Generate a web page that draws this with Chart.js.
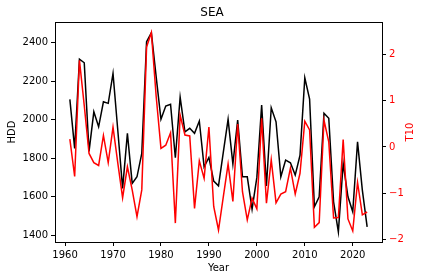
<!DOCTYPE html>
<html>
<head>
<meta charset="utf-8">
<script src="https://cdn.jsdelivr.net/npm/chart.js@4"></script>
<style>
  html, body { margin: 0; padding: 0; background: #fff; }
  canvas { display: block; }
</style>
</head>
<body>
<canvas id="chart" width="424" height="280"></canvas>
<script>
// data
const years = [];
for (let y = 1961; y <= 2023; y++) years.push(y);

const hdd = [
  2106, 1851, 2315, 2296, 1835, 2041, 1963, 2093, 2085, 2241,
  1944, 1643, 1929, 1669, 1703, 1825, 2405, 2452, 2223, 2002,
  2071, 2080, 1802, 2117, 1937, 1955, 1929, 1993, 1755, 1804,
  1681, 1656, 1830, 2002, 1769, 1998, 1703, 1703, 1535, 1700,
  2076, 1655, 2062, 1989, 1703, 1790, 1776, 1712, 1815, 2218,
  2107, 1547, 1599, 2033, 2007, 1573, 1417, 1773, 1599, 1521,
  1885, 1634, 1443
];

const t10 = [
  0.17, -0.64, 1.88, 0.9, -0.14, -0.34, -0.40, 0.25, -0.34, 0.43,
  -0.35, -1.10, -0.43, -0.93, -1.51, -0.93, 2.17, 2.48, 1.1, -0.03,
  0.04, 0.31, -1.65, 0.69, 0.26, 0.24, -1.33, -0.30, -0.68, 0.43,
  -1.29, -1.80, -1.08, -0.37, -1.18, 0.50, -0.97, -1.58, -1.11, -1.34,
  0.62, -1.22, -0.28, -1.21, -1.02, -0.97, -0.46, -1.02, -0.57, 0.56,
  0.37, -1.74, -1.64, 0.58, 0.11, -1.54, -1.53, 0.16, -1.56, -1.82,
  -0.77, -1.47, -1.41
];

const xTicks = [1960, 1970, 1980, 1990, 2000, 2010, 2020];
const hddTicks = [1400, 1600, 1800, 2000, 2200, 2400];
const t10Ticks = [-2, -1, 0, 1, 2];

const FONT = "'DejaVu Sans', sans-serif";
const minus = v => (v < 0 ? '\u2212' + Math.abs(v) : String(v));

// top spine + right-hand label that reads bottom-to-top
const frame = {
  id: 'frame',
  afterDraw(chart) {
    const {ctx, chartArea: a} = chart;
    ctx.save();
    ctx.strokeStyle = '#000';
    ctx.lineWidth = 1;
    ctx.beginPath();
    ctx.moveTo(a.left, a.top + 0.5);
    ctx.lineTo(a.right, a.top + 0.5);
    ctx.stroke();
    ctx.translate(410, (a.top + a.bottom) / 2);
    ctx.rotate(-Math.PI / 2);
    ctx.fillStyle = '#ff0000';
    ctx.font = '10px ' + FONT;
    ctx.textAlign = 'center';
    ctx.textBaseline = 'middle';
    ctx.fillText('T10', 0, 0);
    ctx.restore();
  }
};

new Chart(document.getElementById('chart'), {
  type: 'line',
  data: {
    datasets: [
      {
        label: 'T10',
        data: years.map((yr, i) => ({x: yr, y: t10[i]})),
        yAxisID: 'y2',
        borderColor: '#ff0000',
        borderWidth: 1.5,
        pointRadius: 0,
        tension: 0,
        fill: false
      },
      {
        label: 'HDD',
        data: years.map((yr, i) => ({x: yr, y: hdd[i]})),
        yAxisID: 'y',
        borderColor: '#000000',
        borderWidth: 1.5,
        pointRadius: 0,
        tension: 0,
        fill: false
      }
    ]
  },
  options: {
    responsive: false,
    animation: false,
    layout: {padding: 0},
    plugins: {
      legend: {display: false},
      tooltip: {enabled: false},
      title: {
        display: true,
        text: 'SEA',
        color: '#000',
        font: {family: FONT, size: 12, weight: 'normal'},
        padding: {top: 6, bottom: 1.6}
      }
    },
    scales: {
      x: {
        type: 'linear',
        min: 1957.9,
        max: 2026.1,
        afterBuildTicks: s => { s.ticks = xTicks.map(v => ({value: v})); },
        afterFit: s => { s.height = 38; },
        ticks: {
          color: '#000',
          font: {family: FONT, size: 10},
          padding: 3,
          maxRotation: 0,
          autoSkip: false,
          callback: v => String(v)
        },
        grid: {drawOnChartArea: false, color: '#000', tickLength: 4},
        border: {color: '#000', width: 1},
        title: {
          display: true,
          text: 'Year',
          color: '#000',
          font: {family: FONT, size: 10},
          padding: {top: 0, bottom: 6}
        }
      },
      y: {
        position: 'left',
        min: 1364,
        max: 2508,
        afterBuildTicks: s => { s.ticks = hddTicks.map(v => ({value: v})); },
        afterFit: s => { s.width = 55; },
        ticks: {
          color: '#000',
          font: {family: FONT, size: 10},
          padding: 3,
          autoSkip: false,
          callback: v => String(v)
        },
        grid: {drawOnChartArea: false, color: '#000', tickLength: 4},
        border: {color: '#000', width: 1},
        title: {
          display: true,
          text: 'HDD',
          color: '#000',
          font: {family: FONT, size: 10},
          padding: {top: 6, bottom: 0}
        }
      },
      y2: {
        position: 'right',
        min: -2.06,
        max: 2.71,
        afterBuildTicks: s => { s.ticks = t10Ticks.map(v => ({value: v})); },
        afterFit: s => { s.width = 42; },
        ticks: {
          color: '#ff0000',
          font: {family: FONT, size: 10},
          padding: 3,
          autoSkip: false,
          callback: minus
        },
        grid: {drawOnChartArea: false, color: '#000', tickLength: 4},
        border: {color: '#000', width: 1}
      }
    }
  },
  plugins: [frame]
});
</script>
</body>
</html>
